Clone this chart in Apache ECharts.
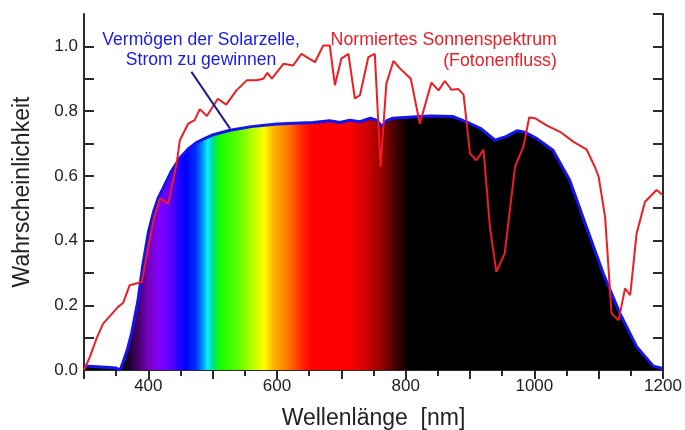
<!DOCTYPE html>
<html><head><meta charset="utf-8">
<script src="https://cdn.jsdelivr.net/npm/echarts@6/dist/echarts.min.js"></script>
<style>html,body{margin:0;padding:0;background:#fff}#c{width:685px;height:430px}</style>
</head><body><div id="c"></div>
<script>
// Cell ability (efficiency) curve
const cellNm  = [300, 320, 340, 350, 356, 360, 367, 374, 384, 391, 400, 408, 415, 423, 436, 449, 462, 475, 488, 501, 527, 560, 600, 656, 682, 698, 713, 729, 745, 755, 763, 770, 780, 810, 838, 874, 895, 916, 939, 957, 973, 985, 1004, 1029, 1055, 1081, 1107, 1133, 1159, 1185, 1200];
const cellEff = [0.012, 0.010, 0.008, 0.006, 0.0, 0.02, 0.06, 0.114, 0.216, 0.319, 0.425, 0.488, 0.530, 0.562, 0.615, 0.655, 0.683, 0.703, 0.716, 0.727, 0.741, 0.752, 0.760, 0.765, 0.770, 0.765, 0.772, 0.767, 0.778, 0.772, 0.752, 0.770, 0.778, 0.782, 0.785, 0.783, 0.766, 0.747, 0.710, 0.722, 0.739, 0.735, 0.715, 0.679, 0.586, 0.442, 0.299, 0.175, 0.072, 0.012, 0.005];
// Normalised solar spectrum (photon flux)
const sunNm  = [300, 309, 320, 330, 341, 353, 361, 371, 390, 397, 408, 418, 431, 444, 449, 462, 472, 480, 491, 508, 521, 537, 553, 568, 579, 585, 592, 610, 625, 638, 659, 672, 682, 690, 700, 711, 721, 729, 742, 752, 761, 770, 781, 791, 808, 822, 840, 851, 861, 871, 882, 890, 900, 910, 921, 931, 941, 954, 970, 983, 992, 1001, 1019, 1040, 1061, 1081, 1094, 1100, 1110, 1120, 1131, 1141, 1149, 1159, 1172, 1190, 1200];
const sunVal = [0.0, 0.04, 0.10, 0.144, 0.168, 0.195, 0.208, 0.262, 0.272, 0.35, 0.463, 0.530, 0.514, 0.638, 0.71, 0.761, 0.772, 0.806, 0.785, 0.838, 0.820, 0.864, 0.895, 0.895, 0.900, 0.918, 0.900, 0.946, 0.941, 0.977, 0.951, 1.003, 1.003, 0.880, 0.962, 0.977, 0.839, 0.849, 0.967, 0.977, 0.628, 0.885, 0.955, 0.932, 0.900, 0.761, 0.888, 0.864, 0.893, 0.866, 0.868, 0.851, 0.669, 0.648, 0.681, 0.442, 0.303, 0.360, 0.628, 0.690, 0.780, 0.778, 0.756, 0.736, 0.705, 0.682, 0.628, 0.597, 0.473, 0.175, 0.154, 0.252, 0.231, 0.422, 0.520, 0.556, 0.540];
// Rainbow fill stops (wavelength -> colour)
const specNm    = [300, 355, 370, 385, 400, 418, 432, 447, 458, 474, 484, 492, 500, 510, 540, 565, 580, 595, 615, 640, 655, 710, 740, 765, 785, 805, 1200];
const specColor = ['#000000', '#000000', '#200030', '#4a0070', '#7800c0', '#8000ff', '#6400ff', '#2800ff', '#0000ff', '#0030ff', '#0090ff', '#00f0ff', '#00d890', '#10ff00', '#60ff00', '#c0ff00', '#ffff00', '#ffb000', '#ff8000', '#ff2000', '#ff0000', '#ff0000', '#d00000', '#900000', '#400000', '#000000', '#000000'];
const xLabels = [400, 600, 800, 1000, 1200];
const yLabels = [0.0, 0.2, 0.4, 0.6, 0.8, 1.0];
const leaderNm  = [467, 527];
const leaderVal = [0.921, 0.746];
const blueText = 'Vermögen der Solarzelle,\nStrom zu gewinnen';
const blueTextPos = [482, 0.988];
const redText = 'Normiertes Sonnenspektrum\n(Fotonenfluss)';
const redTextPos = [1035, 0.986];

const FONT = 'Liberation Sans, Arial, Helvetica, sans-serif';
const AX = '#2a2a2a';
const zip = (a, b) => a.map((v, i) => [v, b[i]]);
const xMin = 300, xMax = 1200;
const stops = specNm.map((nm, i) => ({offset: (nm - xMin) / (xMax - xMin), color: specColor[i]}));

const xBase = {
  type: 'value', min: xMin, max: xMax, interval: 100,
  axisLine: {show: true, lineStyle: {color: AX, width: 2}},
  axisTick: {show: true, inside: true, length: 9, lineStyle: {color: AX, width: 2}},
  minorTick: {show: true, splitNumber: 2, length: 6, lineStyle: {color: AX, width: 2}},
  splitLine: {show: false}, minorSplitLine: {show: false}
};
const yBase = {
  type: 'value', min: 0, max: 1.1, interval: 0.1,
  axisLine: {show: true, lineStyle: {color: AX, width: 2}},
  axisTick: {show: true, inside: true, length: 10, lineStyle: {color: AX, width: 2}},
  splitLine: {show: false}
};

const option = {
  animation: false,
  backgroundColor: '#fff',
  grid: {left: 84, right: 22, top: 14, bottom: 60, containLabel: false, outerBoundsMode: 'none'},
  xAxis: [
    Object.assign({}, xBase, {
      position: 'bottom',
      axisTick: {show: false}, minorTick: {show: false},
      name: 'Wellenlänge  [nm]', nameLocation: 'middle', nameGap: 37,
      nameTextStyle: {fontFamily: FONT, fontSize: 23, color: '#222'},
      axisLabel: {show: true, margin: 8, fontFamily: FONT, fontSize: 17, color: '#222',
        formatter: v => xLabels.indexOf(v) >= 0 ? String(v) : ''}
    }),
    Object.assign({}, xBase, {position: 'top', axisLabel: {show: false}})
  ],
  yAxis: [
    Object.assign({}, yBase, {
      position: 'left',
      name: 'Wahrscheinlichkeit', nameLocation: 'middle', nameGap: 50,
      nameTextStyle: {fontFamily: FONT, fontSize: 23, color: '#222'},
      axisLabel: {show: true, margin: 6, fontFamily: FONT, fontSize: 17, color: '#222', showMaxLabel: false,
        formatter: v => {
          const hit = yLabels.find(l => Math.abs(l - v) < 1e-6);
          return hit !== undefined ? hit.toFixed(1) : '';
        }}
    }),
    Object.assign({}, yBase, {position: 'right', axisLabel: {show: false}})
  ],
  series: [
    {
      type: 'line', xAxisIndex: 0, yAxisIndex: 0,
      data: zip(cellNm, cellEff), symbol: 'none', z: 2,
      lineStyle: {color: '#1414f0', width: 3},
      areaStyle: {opacity: 1, origin: 'start',
        color: new echarts.graphic.LinearGradient(0, 0, 1, 0, stops)}
    },
    {
      type: 'line', xAxisIndex: 0, yAxisIndex: 0,
      data: zip(sunNm, sunVal), symbol: 'none', z: 3,
      lineStyle: {color: '#ee1c24', width: 2}
    },
    {
      type: 'line', xAxisIndex: 0, yAxisIndex: 0,
      data: zip(leaderNm, leaderVal), symbol: 'none', z: 4,
      lineStyle: {color: '#1c1c8c', width: 2}
    }
  ]
};

const chart = echarts.init(document.getElementById('c'), null, {renderer: 'canvas'});
chart.setOption(option);
const pb = chart.convertToPixel({seriesIndex: 0}, blueTextPos);
const pr = chart.convertToPixel({seriesIndex: 0}, redTextPos);
chart.setOption({
  graphic: [
    {type: 'text', x: pb[0], y: pb[1], z: 10,
      style: {text: blueText, fill: '#1a1ae6', fontFamily: FONT, fontSize: 17.6, lineHeight: 20, align: 'center', verticalAlign: 'middle'}},
    {type: 'text', x: pr[0], y: pr[1], z: 10,
      style: {text: redText, fill: '#e8202a', fontFamily: FONT, fontSize: 17.8, lineHeight: 21, align: 'right', verticalAlign: 'middle'}}
  ]
});
</script>
</body></html>
